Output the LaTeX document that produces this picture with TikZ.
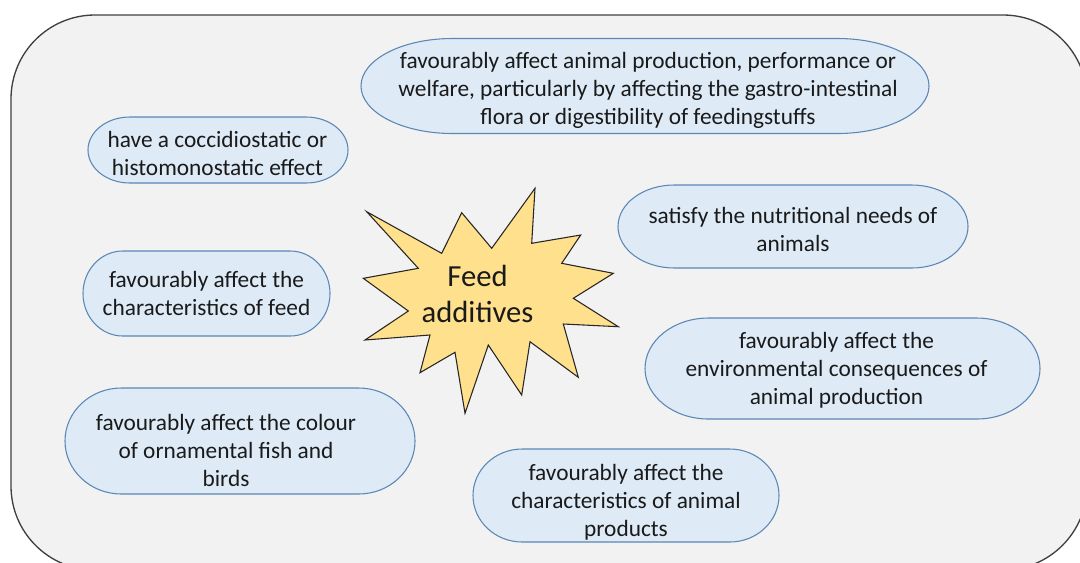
\documentclass[tikz,border=0pt]{standalone}
\usepackage{fontspec}
\setmainfont{Carlito}
\definecolor{framefill}{HTML}{F2F2F2}
\definecolor{frameline}{HTML}{404040}
\definecolor{pillfill}{HTML}{DEEBF7}
\definecolor{pillline}{HTML}{5B87B5}
\definecolor{starfill}{HTML}{FFE08C}
\definecolor{inktext}{HTML}{1A1A1A}
\tikzset{
  pill/.style={draw=pillline, fill=pillfill, line width=0.8pt},
  txt/.style={align=center, text=inktext, inner sep=0pt, font=\fontsize{17.5}{21}\selectfont},
  bigtxt/.style={align=center, text=inktext, inner sep=0pt, font=\fontsize{23}{26.5}\selectfont},
}
% terminator outline: flat top and bottom, elliptical ends
% #1 centre x, #2 centre y, #3 width, #4 height (all in picture units)
\newcommand\termpill[4]{%
  \pgfmathsetmacro\tpRx{0.161*#3}%
  \pgfmathsetmacro\tpHx{#3/2-\tpRx}%
  \pgfmathsetmacro\tpHy{#4/2}%
  \pgfmathsetmacro\tpRxPt{0.75*\tpRx}%
  \pgfmathsetmacro\tpRyPt{0.75*\tpHy}%
  \draw[pill] ({#1-\tpHx},{#2-\tpHy}) -- ({#1+\tpHx},{#2-\tpHy})
    arc[start angle=90, end angle=-90, x radius=\tpRxPt pt, y radius=\tpRyPt pt]
    -- ({#1-\tpHx},{#2+\tpHy})
    arc[start angle=270, end angle=90, x radius=\tpRxPt pt, y radius=\tpRyPt pt]
    -- cycle;%
}
\begin{document}
\begin{tikzpicture}[x=0.75pt, y=-0.75pt]
\useasboundingbox (0,0) rectangle (1080,562);
\fill[white] (0,0) rectangle (1080,562);
\clip (0,0) rectangle (1080,562);

% outer panel
\draw[fill=framefill, draw=frameline, line width=1pt, rounded corners=63pt] (11,15) rectangle (1087,570);

% outcome shapes
\termpill{645}{86}{568}{95}
\termpill{218}{150}{260}{66}
\termpill{793}{226.5}{350}{83}
\termpill{206.5}{293.5}{247}{85}
\termpill{240}{441}{350}{106}
\termpill{842.5}{368.5}{395}{101}
\termpill{626}{495.5}{306}{93}

% outcome texts
\node[txt] (t1) at (648,90.5) {favourably affect animal production, performance or\\welfare, particularly by affecting the gastro-intestinal\\flora or digestibility of feedingstuffs};
\node[txt] (t2) at (217.5,153) {have a coccidiostatic or\\histomonostatic effect};
\node[txt] (t3) at (793,229) {satisfy the nutritional needs of\\animals};
\node[txt] (t4) at (206.5,293) {favourably affect the\\characteristics of feed};
\node[txt] (t5) at (226,450) {favourably affect the colour\\of ornamental fish and\\birds};
\node[txt] (t6) at (836.5,370.5) {favourably affect the\\environmental consequences of\\animal production};
\node[txt] (t7) at (626,502) {favourably affect the\\characteristics of animal\\products};

% central burst
\draw[fill=starfill, draw=black!85, line width=0.8pt, line join=miter]
  (366.7,211.7) -- (441.7,253.3) -- (461.7,212.7) -- (491.7,248.3) --
  (535,188.3) -- (531.7,243.3) -- (580.7,235) -- (561.7,263.3) --
  (613.3,273.3) -- (573.3,298.3) -- (618.3,326.7) -- (563.3,324) --
  (578.3,377.3) -- (530,341.7) -- (521.7,395) -- (488.3,345) --
  (465,413.3) -- (455,352.3) -- (420,372.7) -- (430,335) --
  (365,340) -- (408.3,311) -- (363.3,278.3) -- (418.3,268.3) -- cycle;
\node[bigtxt] (feed) at (477.5,294) {Feed\\additives};
\end{tikzpicture}
\end{document}
